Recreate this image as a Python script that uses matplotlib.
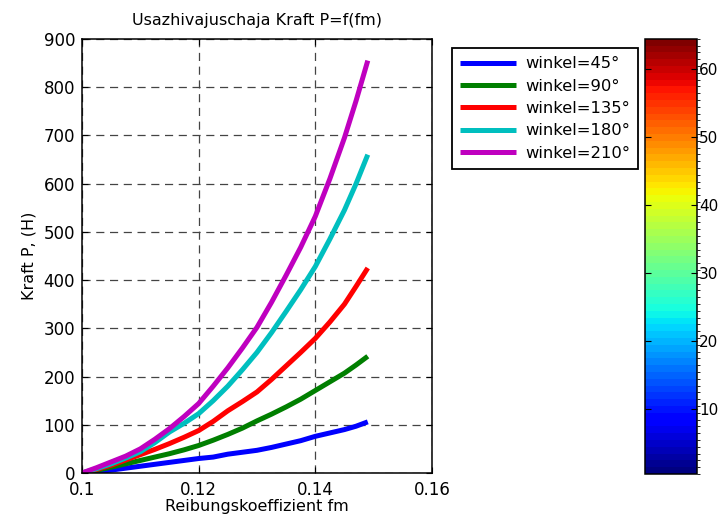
import numpy as np
import matplotlib
matplotlib.use("Agg")
import matplotlib.pyplot as plt
from matplotlib.colors import BoundaryNorm
import matplotlib as mpl

plt.rcParams['font.family'] = ['DejaVu Sans']

fm = [0.100, 0.1025, 0.105, 0.1075, 0.110, 0.1125, 0.115, 0.1175, 0.120, 0.1225,
      0.125, 0.1275, 0.130, 0.1325, 0.135, 0.1375, 0.140, 0.1425, 0.145, 0.147, 0.149]
p45 = [0, 2.5, 6, 10, 14, 18, 22, 26, 30, 33, 39, 43, 47, 53, 60, 67, 76, 83, 90, 97, 106]
p90 = [0, 5.5, 12, 19, 26, 33, 40, 48, 57, 68, 80, 93, 108, 122, 137, 153, 171, 189, 207, 224, 242]
p135 = [0, 7.5, 16, 27, 38, 49, 61, 74, 88, 107, 129, 148, 168, 194, 222, 250, 279, 313, 350, 387, 425]
p180 = [0, 9, 19, 31, 44, 63, 85, 103, 123, 150, 180, 214, 250, 291, 335, 380, 428, 485, 545, 600, 660]
p210 = [0, 11, 23, 35, 50, 70, 92, 117, 144, 180, 218, 259, 302, 354, 410, 468, 532, 610, 695, 772, 855]
labels = ['winkel=45°', 'winkel=90°', 'winkel=135°', 'winkel=180°', 'winkel=210°']
colors = ['#0000ff', '#007f00', '#ff0000', '#00bfbf', '#bf00bf']

xticks = [0.1, 0.12, 0.14, 0.16]
xticklabels = ['0.1', '0.12', '0.14', '0.16']
yticks = [0, 100, 200, 300, 400, 500, 600, 700, 800, 900]
cbar_ticks = [10, 20, 30, 40, 50, 60]

fig = plt.figure(figsize=(7.2, 5.18), dpi=100)
ax = fig.add_axes([0.1139, 0.0869, 0.486, 0.838])

for ys, c, lab in zip([p45, p90, p135, p180, p210], colors, labels):
    ax.plot(fm, ys, color=c, lw=3.6, label=lab, solid_capstyle='butt', solid_joinstyle='round')

ax.set_xlim(0.1, 0.16)
ax.set_ylim(0, 900)
ax.set_xticks(xticks)
ax.set_xticklabels(xticklabels)
ax.set_yticks(yticks)
ax.grid(True, color='#444444', lw=0.9, dashes=(6.5, 4.5))
ax.tick_params(direction='in', length=4, top=True, right=True, labelsize=12, width=0.8)
ax.tick_params(axis='x', pad=6)
ax.tick_params(axis='y', pad=5)
for s in ax.spines.values():
    s.set_linewidth(1.1)
ax.set_title('Usazhivajuschaja Kraft P=f(fm)', fontsize=11.5, pad=10)
ax.set_xlabel('Reibungskoeffizient fm', fontsize=11.5, labelpad=0)
ax.set_ylabel('Kraft P, (H)', fontsize=11.5, labelpad=5)

leg = fig.legend(loc='upper left', bbox_to_anchor=(0.628, 0.907), fontsize=11.8,
                 handlelength=3.4, labelspacing=0.45, borderpad=0.5,
                 handletextpad=0.55, fancybox=False, framealpha=1, borderaxespad=0)
leg.get_frame().set_edgecolor('black')
leg.get_frame().set_linewidth(1.3)

cax = fig.add_axes([0.896, 0.085, 0.072, 0.840])
jet = plt.get_cmap('jet', 64)
bounds = np.arange(0.5, 65.5, 1.0)
norm = BoundaryNorm(bounds, 64)
cb = fig.colorbar(mpl.cm.ScalarMappable(norm=norm, cmap=jet), cax=cax, ticks=cbar_ticks)
cb.outline.set_linewidth(1.1)
cax.tick_params(direction='in', length=4, left=True, right=True, labelsize=11, width=0.8, pad=1.5)
cb.set_ticks(cbar_ticks)
cb.set_ticklabels([str(t) for t in cbar_ticks])

fig.savefig('out.png', dpi=100)
